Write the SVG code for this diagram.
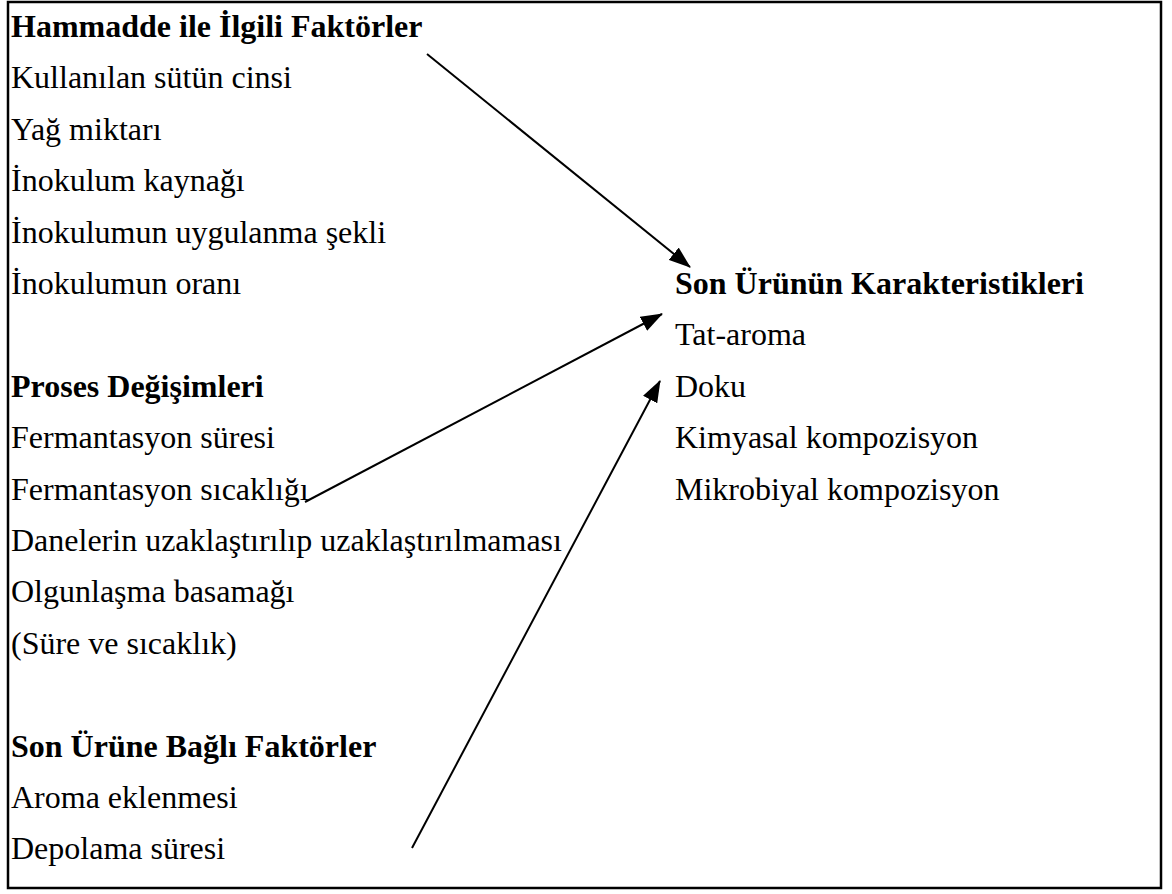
<svg xmlns="http://www.w3.org/2000/svg" width="1172" height="894" viewBox="0 0 1172 894">
<style>
text{font-family:"Liberation Serif","Times New Roman",serif;font-size:32px;fill:#000}
.b{font-weight:bold}
.conn line{stroke:#000;stroke-width:2}
</style>
<defs>
<marker id="ah" markerUnits="userSpaceOnUse" markerWidth="22" markerHeight="16" refX="21" refY="8" orient="auto">
<path d="M0,0 L22,8 L0,16 z" fill="#000"/>
</marker>
</defs>
<rect x="8" y="2" width="1153" height="886" fill="#fff" stroke="#000" stroke-width="2.5"/>
<g id="hammadde">
<text x="11" y="37" class="b">Hammadde ile İlgili Faktörler</text>
<text x="11" y="88.4">Kullanılan sütün cinsi</text>
<text x="11" y="139.8">Yağ miktarı</text>
<text x="11" y="191.2">İnokulum kaynağı</text>
<text x="11" y="242.6">İnokulumun uygulanma şekli</text>
<text x="11" y="294">İnokulumun oranı</text>
</g>
<g id="proses">
<text x="11" y="396.8" class="b">Proses Değişimleri</text>
<text x="11" y="448.2">Fermantasyon süresi</text>
<text x="11" y="499.6">Fermantasyon sıcaklığı</text>
<text x="11" y="551">Danelerin uzaklaştırılıp uzaklaştırılmaması</text>
<text x="11" y="602.4">Olgunlaşma basamağı</text>
<text x="11" y="653.8">(Süre ve sıcaklık)</text>
</g>
<g id="sonurune">
<text x="11" y="756.6" class="b">Son Ürüne Bağlı Faktörler</text>
<text x="11" y="808">Aroma eklenmesi</text>
<text x="11" y="859.4">Depolama süresi</text>
</g>
<g id="karakteristik">
<text x="675" y="294" class="b">Son Ürünün Karakteristikleri</text>
<text x="675" y="345.4">Tat-aroma</text>
<text x="675" y="396.8">Doku</text>
<text x="675" y="448.2">Kimyasal kompozisyon</text>
<text x="675" y="499.6">Mikrobiyal kompozisyon</text>
</g>
<g class="conn" id="connectors">
<line x1="427" y1="54" x2="690" y2="267" marker-end="url(#ah)"/>
<line x1="305" y1="502" x2="662" y2="314" marker-end="url(#ah)"/>
<line x1="412" y1="848" x2="660" y2="381" marker-end="url(#ah)"/>
</g>
</svg>
